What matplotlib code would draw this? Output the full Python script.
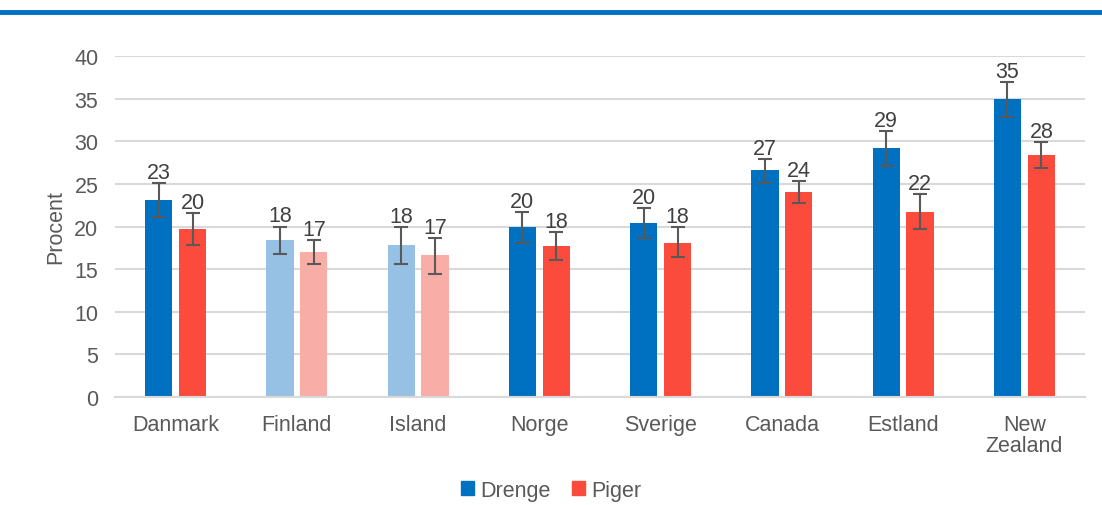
import numpy as np
import matplotlib.pyplot as plt
from matplotlib.patches import Patch

plt.rcParams['font.family'] = ['Liberation Sans', 'DejaVu Sans']

countries = ["Danmark", "Finland", "Island", "Norge", "Sverige", "Canada", "Estland", "New\nZealand"]
drenge = [23.1, 18.4, 17.8, 19.9, 20.4, 26.6, 29.15, 34.9]
drenge_lo = [21.1, 16.8, 15.65, 18.1, 18.7, 25.1, 27.15, 32.8]
drenge_hi = [25.1, 20.0, 19.9, 21.75, 22.15, 27.9, 31.2, 37.0]
piger = [19.65, 17.0, 16.65, 17.7, 18.1, 24.0, 21.75, 28.4]
piger_lo = [17.8, 15.55, 14.4, 16.05, 16.4, 22.7, 19.7, 26.85]
piger_hi = [21.6, 18.45, 18.6, 19.4, 19.9, 25.3, 23.8, 29.95]
# Finland and Island are shown faded
faded = [False, True, True, False, False, False, False, False]

BLUE, RED = "#0070C0", "#FA4B3C"
BLUE_L, RED_L = "#97C1E4", "#F9ADA7"
ERR = "#595959"
FS = 15.5

fig = plt.figure(figsize=(11.02, 5.06), dpi=100)
ax = fig.add_axes([115 / 1102, 1 - 398 / 506, 970 / 1102, 341 / 506])

# blue rule across the top of the figure
fig.add_artist(plt.Line2D([0, 1], [1 - 13 / 506] * 2, color=BLUE, lw=3.5, transform=fig.transFigure))

x = np.arange(len(countries))
w, off = 0.225, 0.14

for vals, lo, hi, sign, col, col_l in [(drenge, drenge_lo, drenge_hi, -1, BLUE, BLUE_L),
                                       (piger, piger_lo, piger_hi, 1, RED, RED_L)]:
    vals, lo, hi = np.array(vals), np.array(lo), np.array(hi)
    colors = [col_l if f else col for f in faded]
    pos = x + sign * off
    ax.bar(pos, vals, w, color=colors, zorder=2)
    ax.errorbar(pos, vals, yerr=[vals - lo, hi - vals], fmt="none", ecolor=ERR,
                elinewidth=1.5, capsize=5, capthick=1.5, zorder=3)
    for p, v, h in zip(pos, vals, hi):
        ax.annotate(f"{v:.0f}", (p, h), xytext=(0, 0), textcoords="offset points",
                    ha="center", va="bottom", fontsize=FS, color="#404040", zorder=4)

ax.set_ylim(0, 40)
ax.set_xlim(-0.5, len(countries) - 0.5)
ax.set_yticks(range(0, 41, 5))
ax.set_xticks(x)
ax.set_xticklabels(countries, fontsize=FS, color="#595959", linespacing=1.0)
ax.tick_params(axis="y", labelsize=FS, labelcolor="#595959", length=0, pad=12)
ax.tick_params(axis="x", length=0, pad=12)
ax.grid(axis="y", color="#D9D9D9", lw=1.5, zorder=0)
for s in ["top", "right", "left"]:
    ax.spines[s].set_visible(False)
ax.spines["bottom"].set_color("#D9D9D9")
ax.spines["bottom"].set_linewidth(1.5)
ax.set_ylabel("Procent", fontsize=FS, color="#595959", labelpad=6)

handles = [Patch(color=BLUE, label="Drenge"), Patch(color=RED, label="Piger")]
fig.legend(handles=handles, loc="lower center", bbox_to_anchor=(0.5, 0.0), ncol=2,
           frameon=False, fontsize=FS, handlelength=0.6, handleheight=0.6, handletextpad=0.3,
           columnspacing=1.0, labelcolor="#595959", borderaxespad=0.1, borderpad=0.1)

fig.savefig("out.png", dpi=100, facecolor="white")
